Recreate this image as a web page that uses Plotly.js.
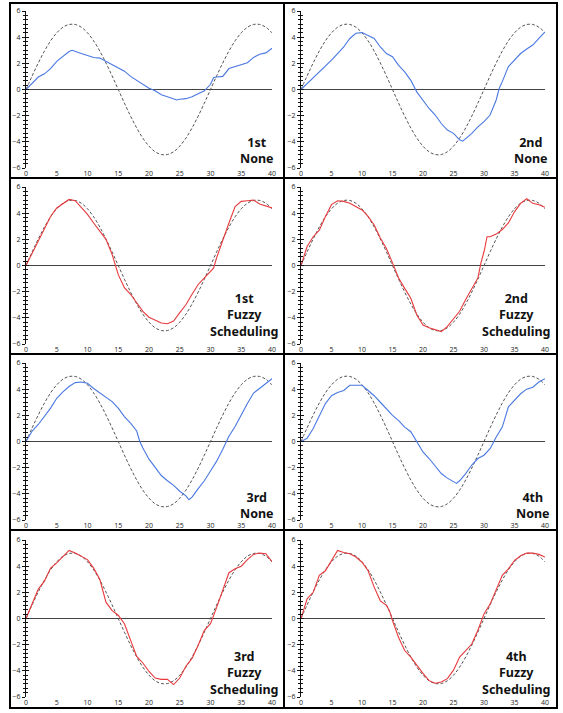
<!DOCTYPE html>
<html>
<head>
<meta charset="utf-8">
<script src="https://cdn.plot.ly/plotly-3.0.1.min.js"></script>
<style>html,body{margin:0;padding:0;background:#fff;}#chart{width:563px;height:713px;}</style>
</head>
<body>
<div id="chart"></div>
<script>
// ---------- data ----------
const refX = [0,1,2,3,4,5,6,7,8,9,10,11,12,13,14,15,16,17,18,19,20,21,22,23,24,25,26,27,28,29,30,31,32,33,34,35,36,37,38,39,40];
const refY = [0,1.04,2.03,2.94,3.72,4.33,4.76,4.97,4.97,4.76,4.33,3.72,2.94,2.03,1.04,0,-1.04,-2.03,-2.94,-3.72,-4.33,-4.76,-4.97,-4.97,-4.76,-4.33,-3.72,-2.94,-2.03,-1.04,0,1.04,2.03,2.94,3.72,4.33,4.76,4.97,4.97,4.76,4.33];

const none1X = [0,1,2,3,4,5,6,7,7.5,8,9,10,11,12,13,14,15,16,17,18,19,20,21,22,23,24,24.5,25,26,27,28,29,30,30.5,31,32,33,34,35,36,37,38,39,40];
const none1Y = [0,0.5,0.95,1.2,1.6,2.15,2.5,2.9,3.0,2.9,2.75,2.6,2.45,2.4,2.15,1.9,1.65,1.4,1.0,0.7,0.4,0.1,-0.1,-0.4,-0.55,-0.7,-0.8,-0.75,-0.7,-0.55,-0.3,-0.1,0.4,0.9,0.95,1.0,1.6,1.75,1.9,2.05,2.45,2.7,2.8,3.15];

const none2X = [0,1,2,3,4,5,6,7,8,9,10,11,12,13,14,15,16,17,18,19,20,21,22,23,24,25,26,26.5,27,28,29,30,31,32,32.5,33,34,35,36,37,38,39,40];
const none2Y = [0,0.45,0.85,1.3,1.75,2.25,2.75,3.25,3.9,4.3,4.35,4.15,3.9,3.25,2.75,2.5,1.85,1.35,0.7,-0.2,-0.8,-1.45,-1.95,-2.6,-3.1,-3.35,-3.85,-3.95,-3.75,-3.35,-2.85,-2.45,-1.95,-0.8,0.1,0.6,1.75,2.25,2.75,3.1,3.4,3.9,4.4];

const fuzzy1X = [0,1,2,3,4,5,6,7,8,9,10,11,12,13,14,14.5,15,16,17,18,19,20,21,22,23,24,25,26,27,28,29,30,30.5,31,32,33,34,35,36,37,38,39,40];
const fuzzy1Y = [0,0.95,1.85,2.75,3.75,4.4,4.7,5.05,4.95,4.45,3.9,3.25,2.6,2.0,0.85,0.1,-0.7,-1.7,-2.2,-2.85,-3.5,-3.95,-4.2,-4.4,-4.45,-4.25,-3.6,-3.0,-2.2,-1.45,-0.95,-0.45,-0.2,0.6,2.0,3.25,4.5,4.9,4.95,5.0,4.7,4.55,4.4];

const fuzzy2X = [0,1,2,3,4,5,6,7,8,9,10,11,12,13,14,15,16,17,18,19,20,21,22,23,24,25,26,27,28,29,29.5,30,30.5,31,32,33,34,35,36,37,38,39,40];
const fuzzy2Y = [0,1.45,2.2,2.7,3.75,4.65,4.95,4.9,4.75,4.5,4.25,3.75,3.1,2.1,1.3,0.2,-0.95,-1.75,-2.5,-3.8,-4.55,-4.75,-4.9,-5.05,-4.65,-4.05,-3.5,-2.6,-1.75,-0.95,0.2,1.05,2.2,2.2,2.4,2.75,3.25,4.1,4.75,5.1,4.75,4.65,4.45];

const none3X = [0,1,2,3,4,5,6,7,8,9,10,11,12,13,14,15,16,17,18,18.5,19,20,21,22,23,24,25,26,26.5,27,28,29,30,31,32,33,34,35,36,37,38,39,40];
const none3Y = [0,0.8,1.3,1.9,2.55,3.3,3.8,4.2,4.5,4.55,4.45,4.05,3.7,3.4,3.05,2.55,1.9,1.4,0.8,0,-0.5,-1.35,-2.0,-2.6,-3.0,-3.35,-3.8,-4.15,-4.45,-4.25,-3.6,-3.0,-2.25,-1.5,-0.6,0.4,1.15,2.05,2.9,3.7,4.05,4.45,4.8];

const none4X = [0,1,2,3,4,5,6,7,8,9,10,11,12,13,14,15,16,17,18,19,20,21,22,23,24,25,25.5,26,27,28,29,30,31,32,33,34,35,36,37,38,39,40];
const none4Y = [0,0.25,1.0,2.0,2.9,3.5,3.75,3.9,4.3,4.3,4.3,3.9,3.5,3.0,2.5,2.0,1.6,1.1,0.75,0,-0.8,-1.3,-1.9,-2.45,-2.8,-3.05,-3.2,-3.0,-2.45,-1.8,-1.3,-1.05,-0.55,0.35,1.1,2.65,3.15,3.65,4.0,4.15,4.55,4.8];

const fuzzy3X = [0,1,2,3,4,5,6,7,8,9,10,11,12,13,14,15,16,17,18,19,20,21,22,23,24,25,26,27,28,29,30,31,32,33,34,35,36,37,38,39,40];
const fuzzy3Y = [0,1.1,2.25,2.85,3.85,4.25,4.75,5.2,5.0,4.75,4.5,3.85,3.0,1.25,0.6,0.25,-0.4,-1.65,-2.9,-3.4,-4.05,-4.55,-4.65,-4.65,-5.05,-4.55,-3.65,-3.05,-2.05,-0.9,-0.4,0.85,2.25,3.5,3.8,4.0,4.5,4.9,5.0,4.95,4.35];

const fuzzy4X = [0,1,2,3,4,5,6,7,8,9,10,11,12,13,14,14.5,15,16,17,18,19,20,21,22,23,24,25,26,27,28,29,30,31,32,33,34,35,36,37,38,39,40];
const fuzzy4Y = [0,1.5,2.0,3.3,3.65,4.45,5.2,5.05,4.95,4.7,4.3,3.65,2.4,1.35,1.0,0.6,-0.15,-1.45,-2.45,-2.95,-3.6,-4.2,-4.75,-4.95,-4.85,-4.6,-3.95,-2.95,-2.45,-1.95,-0.9,0.35,1.1,2.25,3.3,3.8,4.45,4.8,5.0,5.0,4.9,4.7];

const panelLabels = ["1st<br>None","2nd<br>None","1st<br>Fuzzy<br>Scheduling","2nd<br>Fuzzy<br>Scheduling","3rd<br>None","4th<br>None","3rd<br>Fuzzy<br>Scheduling","4th<br>Fuzzy<br>Scheduling"];
const xTickVals = [0,5,10,15,20,25,30,35,40];
const yTickVals = [-6,-4,-2,0,2,4,6];

// ---------- layout ----------
const W = 563, H = 713;
const px = v => v / W;
const py = v => 1 - v / H;

const panels = [
  {x: none1X, y: none1Y, c: 'blue'},
  {x: none2X, y: none2Y, c: 'blue'},
  {x: fuzzy1X, y: fuzzy1Y, c: 'red'},
  {x: fuzzy2X, y: fuzzy2Y, c: 'red'},
  {x: none3X, y: none3Y, c: 'blue'},
  {x: none4X, y: none4Y, c: 'blue'},
  {x: fuzzy3X, y: fuzzy3Y, c: 'red'},
  {x: fuzzy4X, y: fuzzy4Y, c: 'red'}
];
const colColor = {blue: '#4a78e2', red: '#e8393c'};

const colPlot = [[26, 272], [301, 545]];
const rowPlot = [[11, 168], [187, 344], [363, 520], [540, 697]];
const colCell = [[10, 284], [284, 557]];
const rowCell = [[3, 178], [178, 354], [354, 530], [530, 708]];
const labelPos = [[276,169],[550,169],[280,342],[552,342],[276,524],[552,524],[280,700],[552,700]];

const data = [];
const layout = {
  width: W, height: H,
  margin: {l: 0, r: 0, t: 0, b: 0, pad: 0},
  paper_bgcolor: '#fff', plot_bgcolor: '#fff',
  showlegend: false,
  font: {family: 'Open Sans, sans-serif', size: 7, color: '#222'},
  annotations: [], shapes: []
};

const tickFont = {family: 'Open Sans, sans-serif', size: 7, color: '#222'};

panels.forEach((p, i) => {
  const n = i + 1;
  const col = i % 2, row = Math.floor(i / 2);
  const xa = 'x' + n, ya = 'y' + n, yo = 'y' + (n + 8);
  data.push({x: refX, y: refY, xaxis: xa, yaxis: ya, mode: 'lines', hoverinfo: 'skip',
    line: {color: '#555', width: 1, dash: '3px,2px', shape: 'spline', smoothing: 1}});
  data.push({x: p.x, y: p.y, xaxis: xa, yaxis: ya, mode: 'lines', hoverinfo: 'skip',
    line: {color: colColor[p.c], width: 1.1}});
  data.push({x: [], y: [], xaxis: xa, yaxis: yo, mode: 'lines', hoverinfo: 'skip'});

  layout['xaxis' + n] = {
    domain: [px(colPlot[col][0]), px(colPlot[col][1])], range: [0, 40], anchor: ya,
    tickmode: 'array', tickvals: xTickVals, ticks: '', showline: false, showgrid: false,
    zeroline: false, tickfont: tickFont, fixedrange: true
  };
  layout['yaxis' + n] = {
    domain: [py(rowPlot[row][1]), py(rowPlot[row][0])], range: [-6, 6], anchor: xa,
    tickmode: 'array', tickvals: yTickVals, ticks: 'outside', ticklen: 3, tickwidth: 1, tickcolor: '#111',
    showline: true, linecolor: '#111', linewidth: 1, showgrid: false,
    zeroline: true, zerolinecolor: '#444', zerolinewidth: 1.5,
    minor: {tickmode: 'linear', tick0: 0, dtick: 1/3, ticks: 'outside', ticklen: 2, tickcolor: '#111', tickwidth: 1, showgrid: false},
    tickfont: tickFont, fixedrange: true
  };
  layout['yaxis' + (n + 8)] = {
    overlaying: ya, anchor: xa, side: 'left', range: [-6, 6],
    tickmode: 'array', tickvals: yTickVals, ticks: 'inside', ticklen: 3, tickwidth: 1, tickcolor: '#111',
    showticklabels: false, showline: false, showgrid: false, zeroline: false,
    minor: {tickmode: 'linear', tick0: 0, dtick: 1/3, ticks: 'inside', ticklen: 2, tickcolor: '#111', tickwidth: 1, showgrid: false},
    fixedrange: true
  };

  layout.annotations.push({
    xref: 'paper', yref: 'paper', x: px(labelPos[i][0]), y: py(labelPos[i][1]),
    xanchor: 'right', yanchor: 'bottom', align: 'center', showarrow: false,
    text: '<b>' + panelLabels[i] + '</b>',
    font: {family: 'Noto Sans, sans-serif', size: 12.5, color: '#111'}
  });

  layout.shapes.push({
    type: 'rect', xref: 'paper', yref: 'paper', layer: 'above',
    x0: px(colCell[col][0]), x1: px(colCell[col][1]),
    y0: py(rowCell[row][1]), y1: py(rowCell[row][0]),
    line: {color: '#000', width: 2}
  });
});

Plotly.newPlot('chart', data, layout, {staticPlot: true, displayModeBar: false});
</script>
</body>
</html>
